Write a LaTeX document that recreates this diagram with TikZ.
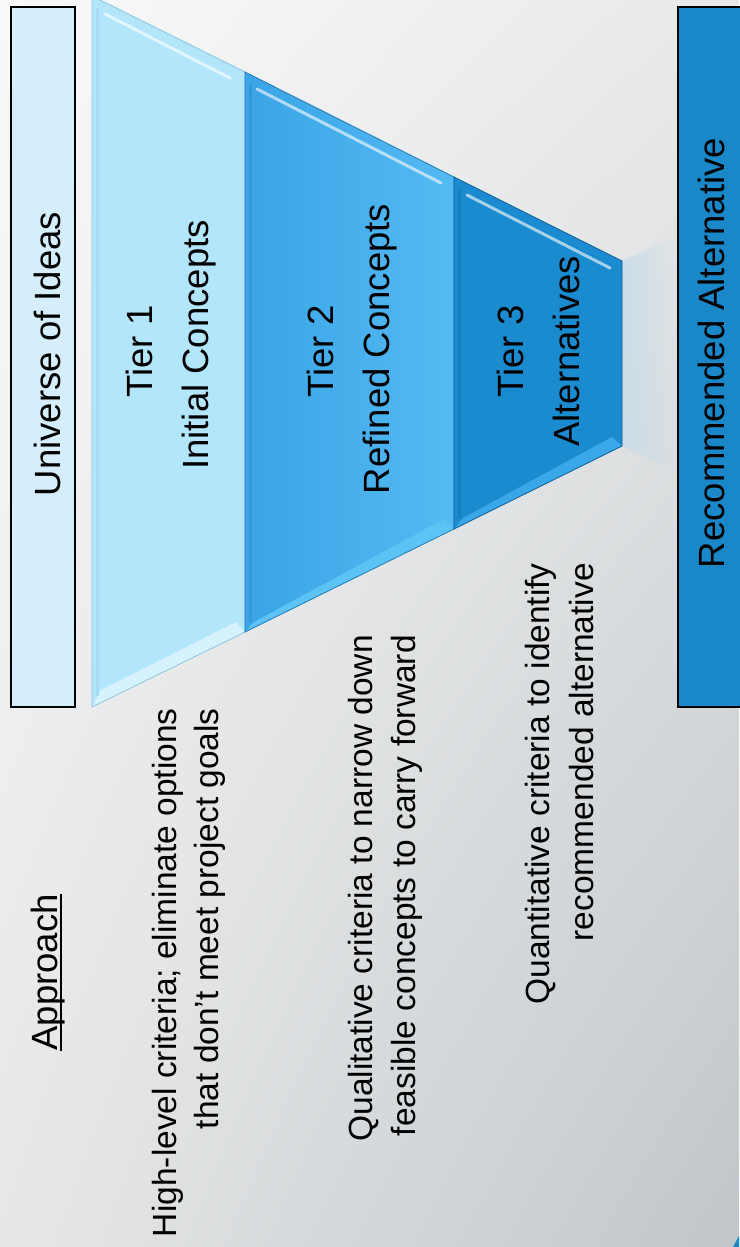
\documentclass[tikz,border=0pt]{standalone}
\usepackage{fontspec}
\setmainfont{Liberation Sans}
\usetikzlibrary{fadings,shadings}
\definecolor{bgUL}{RGB}{249,249,249}
\definecolor{bgUR}{RGB}{232,233,234}
\definecolor{bgLL}{RGB}{230,231,232}
\definecolor{bgLR}{RGB}{192,198,201}
\definecolor{univfill}{RGB}{214,237,251}
\definecolor{recfill}{RGB}{26,135,201}
\definecolor{tierone}{RGB}{180,230,251}
\definecolor{tieroneedge}{RGB}{140,196,223}
\definecolor{tieronelow}{RGB}{214,243,253}
\definecolor{tiertwoL}{RGB}{58,164,229}
\definecolor{tiertwoR}{RGB}{84,186,243}
\definecolor{tiertwoedge}{RGB}{36,122,182}
\definecolor{tiertwolow}{RGB}{92,196,245}
\definecolor{tierthree}{RGB}{27,139,207}
\definecolor{tierthreeedge}{RGB}{18,96,152}
\definecolor{tierthreelow}{RGB}{58,168,232}
\definecolor{glow}{RGB}{200,220,232}
\begin{document}
\begin{tikzpicture}[x=1pt,y=-1pt,
  bigtxt/.style={rotate=90, font=\fontsize{36.5}{44}\selectfont, inner sep=0pt, text=black},
  desctxt/.style={rotate=90, font=\fontsize{33.5}{40}\selectfont, inner sep=0pt, text=black, anchor=base east},
  plainbox/.style={draw=black, line width=1.2pt, rotate=90, minimum height=64pt, minimum width=700pt, inner sep=0pt},
  streak/.style={white, line width=3pt, line cap=round, opacity=0.6},
  tierline/.style={line width=0.8pt}
]
\useasboundingbox (0,0) rectangle (739,1247);
% background
\shade[upper left=bgUL, upper right=bgUR, lower left=bgLL, lower right=bgLR] (0,0) rectangle (739,1247);

% funnel corner coordinates
\coordinate (ta) at (92,-4);
\coordinate (tb) at (245,72);
\coordinate (tc) at (454,177);
\coordinate (td) at (622,261);
\coordinate (ba) at (92,707);
\coordinate (bb) at (245,632);
\coordinate (bc) at (454,529);
\coordinate (bd) at (622,446);

% glow to the right of tier 3
\fill[glow, path fading=east, opacity=0.9] (td) -- (678,236) -- (678,472) -- (bd) -- cycle;

% tier 1
\fill[tierone] (ta) -- (tb) -- (bb) -- (ba) -- cycle;
\fill[tieronelow] (ba) -- (bb) -- (236,622) -- (101,690) -- cycle;
\draw[tieroneedge, line width=3pt, opacity=0.35] (97,8) -- (97,696);
\draw[tieroneedge, tierline] (ta) -- (tb) -- (bb) -- (ba) -- cycle;
\draw[streak] (105,14) -- (230,78);

% tier 2
\shade[left color=tiertwoL, right color=tiertwoR] (tb) -- (tc) -- (bc) -- (bb) -- cycle;
\fill[tiertwolow] (bb) -- (bc) -- (444,519) -- (254,622) -- cycle;
\draw[tiertwoedge, line width=3pt, opacity=0.3] (250,84) -- (250,622);
\draw[tiertwoedge, tierline] (tb) -- (tc) -- (bc) -- (bb) -- cycle;
\draw[streak] (257,89) -- (441,183);

% tier 3
\fill[tierthree] (tc) -- (td) -- (bd) -- (bc) -- cycle;
\fill[tierthreelow] (bc) -- (bd) -- (612,437) -- (463,518) -- cycle;
\draw[tierthreeedge, line width=3pt, opacity=0.3] (459,189) -- (459,518);
\draw[tierthreeedge, tierline] (tc) -- (td) -- (bd) -- (bc) -- cycle;
\draw[streak] (467,195) -- (610,268);

% side boxes
\node[plainbox, fill=univfill] (univbox) at (43,357) {};
\node[plainbox, fill=recfill, minimum height=66pt] (recbox) at (711,357) {};
\fill[recfill] (733,1247) -- (739,1236) -- (739,1247) -- cycle;

% texts on boxes and tiers
\node[bigtxt, anchor=base] (univtext) at (60,354) {Universe of Ideas};
\node[bigtxt, anchor=base] (rectext) at (724,353) {Recommended Alternative};
\node[bigtxt, anchor=base] (tieronetitle) at (152,351.5) {Tier 1};
\node[bigtxt, anchor=base] (tieronename) at (208,345) {Initial Concepts};
\node[bigtxt, anchor=base] (tiertwotitle) at (333,351.5) {Tier 2};
\node[bigtxt, anchor=base] (tiertwoname) at (389,349) {Refined Concepts};
\node[bigtxt, anchor=base] (tierthreetitle) at (523,351.5) {Tier 3};
\node[bigtxt, anchor=base] (tierthreename) at (579,351.5) {Alternatives};

% approach column
\node[bigtxt, anchor=base] (approach) at (57,972.5) {Approach};
\draw[line width=1.8pt] ([xshift=3.8pt]approach.base west) -- ([xshift=3.8pt]approach.base east);

\node[desctxt] (donea) at (176,708) {High-level criteria; eliminate options};
\node[desctxt] (doneb) at (218,708) {that don’t meet project goals};
\node[desctxt] (dtwoa) at (372,635) {Qualitative criteria to narrow down};
\node[desctxt] (dtwob) at (415,635) {feasible concepts to carry forward};
\node[desctxt] (dthreea) at (549,563) {Quantitative criteria to identify};
\node[desctxt] (dthreeb) at (593,563) {recommended alternative};
\end{tikzpicture}
\end{document}
